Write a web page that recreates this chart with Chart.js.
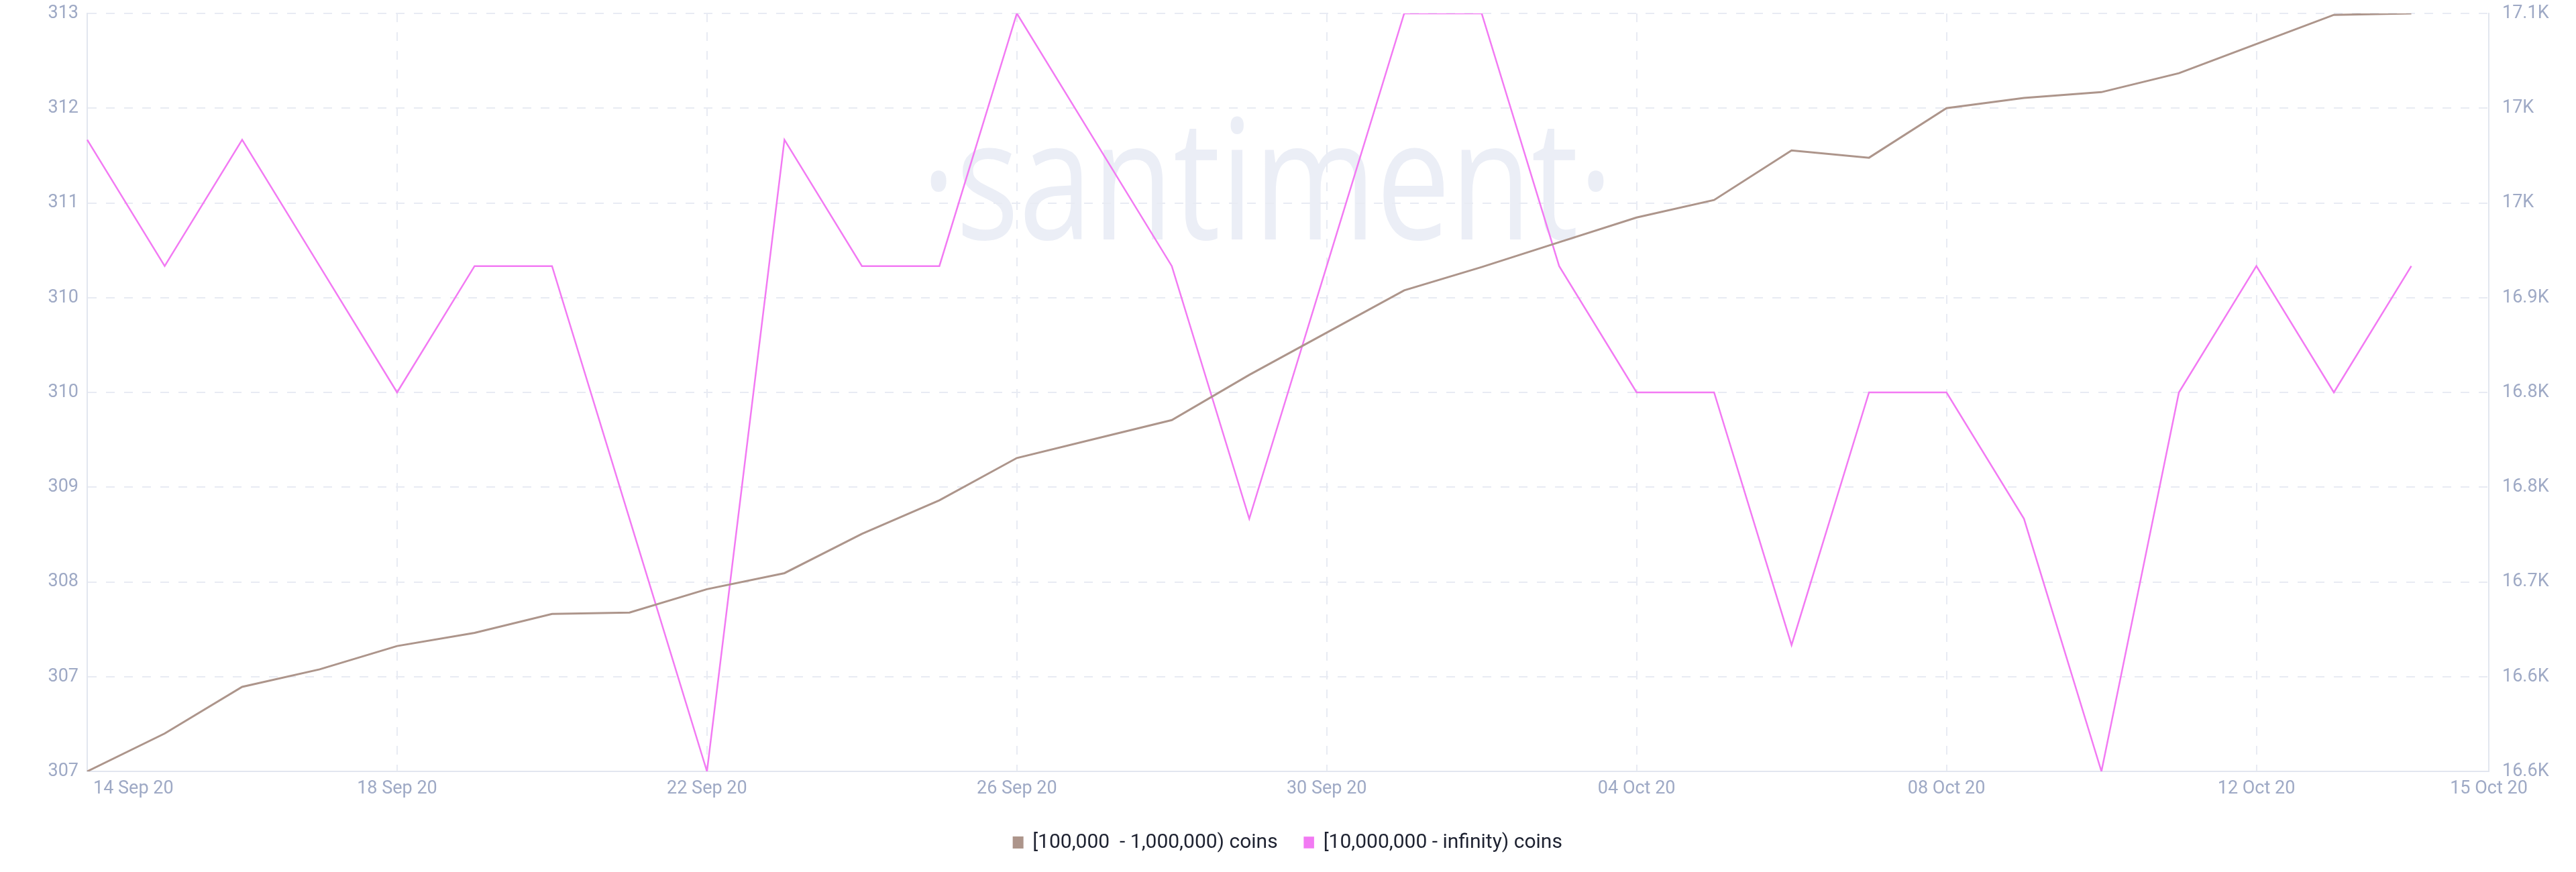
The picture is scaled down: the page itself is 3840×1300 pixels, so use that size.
<!DOCTYPE html>
<html>
<head>
<meta charset="utf-8">
<title>Holders distribution</title>
<script src="https://cdn.jsdelivr.net/npm/chart.js@4.4.0/dist/chart.umd.min.js"></script>
<style>
  html, body { margin: 0; padding: 0; background: #ffffff; }
  #wrap { width: 3840px; height: 1300px; position: relative; }
</style>
</head>
<body>
<div id="wrap"><canvas id="holdersChart"></canvas></div>
<script>
// Dates on the x axis (last one has no data, only a label)
const dates = [
  "14 Sep 20", "15 Sep 20", "16 Sep 20", "17 Sep 20", "18 Sep 20", "19 Sep 20", "20 Sep 20",
  "21 Sep 20", "22 Sep 20", "23 Sep 20", "24 Sep 20", "25 Sep 20", "26 Sep 20", "27 Sep 20",
  "28 Sep 20", "29 Sep 20", "30 Sep 20", "01 Oct 20", "02 Oct 20", "03 Oct 20", "04 Oct 20",
  "05 Oct 20", "06 Oct 20", "07 Oct 20", "08 Oct 20", "09 Oct 20", "10 Oct 20", "11 Oct 20",
  "12 Oct 20", "13 Oct 20", "14 Oct 20", "15 Oct 20",
];

// [100,000 - 1,000,000) coins holders (right axis)
const midHolders = [
  16620, 16646, 16678, 16690, 16706, 16715, 16728, 16729, 16745, 16756, 16783,
  16806, 16835, 16848, 16861, 16892, 16921, 16950, 16966, 16983, 17000, 17012,
  17046, 17041, 17075, 17082, 17086, 17099, 17119, 17139, 17140,
];

// [10,000,000 - infinity) coins holders (left axis)
const whaleHolders = [
  312, 311, 312, 311, 310, 311, 311, 309, 307, 312, 311, 311, 313, 312, 311, 309,
  311, 313, 313, 311, 310, 310, 308, 310, 310, 309, 307, 310, 311, 310, 311,
];

const seriesNames = ["[100,000  - 1,000,000) coins", "[10,000,000 - infinity) coins"];

// Axis ranges
const leftRange = [307, 313, 0.75];
const rightRange = [16620, 17140, 65];

const brown = "#ad958b";
const pink = "#f27af3";
const gridColor = "#e8ebf3";
const tickColor = "#9ea9c5";

// Big faint logo behind the lines
const watermark = {
  id: "watermark",
  beforeDraw(chart) {
    const ctx = chart.ctx;
    ctx.save();
    ctx.translate(1889, 357);
    ctx.scale(1, 1.27);
    ctx.font = '197px "Open Sans"';
    ctx.textAlign = "center";
    ctx.textBaseline = "alphabetic";
    ctx.fillStyle = "#ebeef6";
    ctx.fillText("\u00b7santiment\u00b7", 0, 0);
    ctx.restore();
  },
};

// First date label sits to the right of its tick instead of centred on it
const firstLabelAlign = {
  id: "firstLabelAlign",
  beforeDraw(chart) {
    const x = chart.scales.x;
    if (!x || typeof x.getLabelItems !== "function") return;
    const items = x.getLabelItems();
    if (items.length && items[0].label === dates[0]) {
      items[0].options.textAlign = "left";
      items[0].options.translation[0] += 9;
    }
  },
};

// Fixed side axis width, no extra room above/below for the end labels
function fixYAxis(scale) {
  scale.width = 130;
  scale.paddingTop = 0;
  scale.paddingBottom = 0;
}

Chart.defaults.font.family = "Roboto";
Chart.defaults.animation = false;

// Initialize Chart
const ctx = document.getElementById("holdersChart").getContext("2d");
new Chart(ctx, {
  type: "line",
  data: {
    labels: dates,
    datasets: [
      {
        label: seriesNames[0],
        data: midHolders,
        yAxisID: "yRight",
        borderColor: brown,
        backgroundColor: brown,
        borderWidth: 3,
        pointRadius: 0,
        tension: 0,
      },
      {
        label: seriesNames[1],
        data: whaleHolders,
        yAxisID: "yLeft",
        borderColor: pink,
        backgroundColor: pink,
        borderWidth: 2.5,
        pointRadius: 0,
        tension: 0,
      },
    ],
  },
  options: {
    responsive: true,
    maintainAspectRatio: false,
    layout: { padding: { top: 20, bottom: 19, left: 0, right: 0 } },
    plugins: {
      tooltip: { enabled: false },
      legend: {
        position: "bottom",
        labels: {
          boxWidth: 13,
          boxHeight: 15,
          padding: 40,
          color: "#1e2231",
          font: { size: 30 },
        },
      },
    },
    scales: {
      x: {
        type: "category",
        offset: false,
        afterFit(scale) {
          scale.height = 51;
        },
        border: { display: true, color: "#e2e6ef", width: 2, dash: [13, 15] },
        grid: {
          drawTicks: false,
          lineWidth: 2,
          color: (c) => (c.index > 0 && c.index % 4 === 0 ? gridColor : "rgba(0,0,0,0)"),
        },
        ticks: {
          autoSkip: false,
          maxRotation: 0,
          padding: 10,
          color: tickColor,
          font: { size: 27 },
          callback: function (value, index) {
            return index % 4 === 0 || index === dates.length - 1 ? dates[index] : "";
          },
        },
      },
      yLeft: {
        type: "linear",
        position: "left",
        min: leftRange[0],
        max: leftRange[1],
        afterFit: fixYAxis,
        border: { display: true, color: "#e2e6ef", width: 2, dash: [13, 14] },
        grid: {
          drawTicks: false,
          lineWidth: 2,
          color: gridColor,
        },
        ticks: {
          stepSize: leftRange[2],
          padding: 13,
          color: tickColor,
          font: { size: 27 },
          callback: (v) => String(Math.floor(v + 1e-6)),
        },
      },
      yRight: {
        type: "linear",
        position: "right",
        min: rightRange[0],
        max: rightRange[1],
        afterFit: fixYAxis,
        border: { display: true, color: "#e2e6ef", width: 2 },
        grid: { display: false, drawOnChartArea: false },
        ticks: {
          stepSize: rightRange[2],
          padding: 12,
          color: tickColor,
          font: { size: 27 },
          callback: (v) => Math.floor(v / 100 + 1e-6) / 10 + "K",
        },
      },
    },
  },
  plugins: [watermark, firstLabelAlign],
});
</script>
</body>
</html>
